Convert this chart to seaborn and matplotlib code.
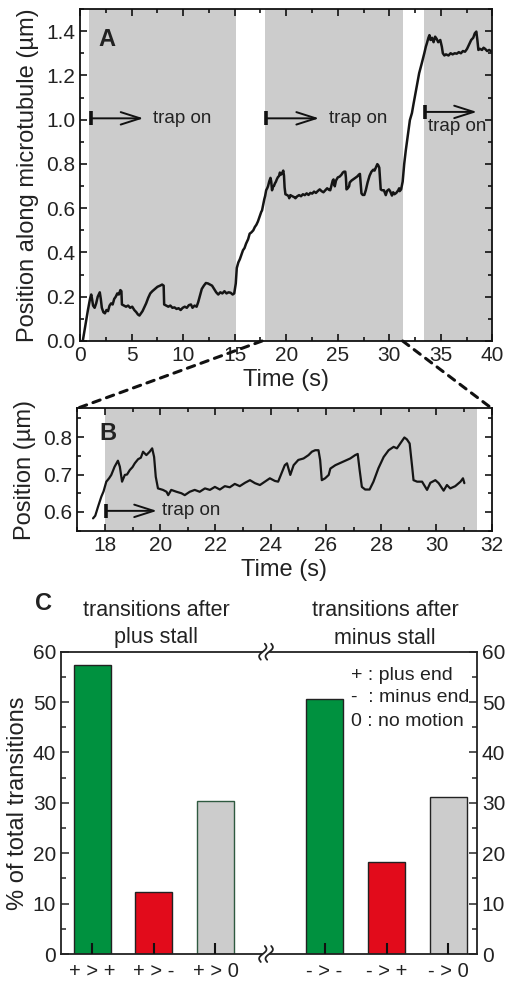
import numpy as np
import pandas as pd
import matplotlib
matplotlib.use("Agg")
import matplotlib.pyplot as plt
import seaborn as sns
from matplotlib.patches import ArrowStyle, ConnectionPatch
from matplotlib.lines import Line2D
from matplotlib.markers import TICKUP
from matplotlib.ticker import MultipleLocator

# ---------------- data ----------------
# trace before the zoomed window (panel A only)
pre_t = [0.25, 0.5, 0.75, 0.95, 1.07, 1.15, 1.25, 1.4, 1.55, 1.7, 1.9, 2.0, 2.1, 2.25, 2.4, 2.55, 2.7,
         2.85, 3.0, 3.15, 3.3, 3.45, 3.6, 3.75, 3.9, 4.0, 4.05, 4.25, 4.45, 4.65, 4.85, 5.05, 5.25, 5.45,
         5.6, 5.75, 5.9, 6.05, 6.2, 6.4, 6.6, 6.8, 7.0, 7.25, 7.5, 7.75, 7.95, 8.1, 8.15, 8.35, 8.55,
         8.75, 8.95, 9.15, 9.35, 9.55, 9.75, 9.95, 10.15, 10.35, 10.55, 10.75, 10.9, 11.1, 11.3, 11.45,
         11.6, 11.8, 12.0, 12.2, 12.4, 12.6, 12.8, 13.0, 13.2, 13.4, 13.6, 13.8, 14.0, 14.2, 14.4, 14.6,
         14.8, 14.95, 15.1, 15.2, 15.35, 15.5, 15.65, 15.8, 15.95, 16.1, 16.3, 16.45, 16.6, 16.8, 16.95,
         17.1, 17.25, 17.4]
pre_y = [0.0, 0.07, 0.14, 0.19, 0.21, 0.19, 0.16, 0.15, 0.17, 0.20, 0.22, 0.19, 0.15, 0.13, 0.125, 0.14,
         0.135, 0.16, 0.17, 0.165, 0.19, 0.20, 0.215, 0.21, 0.23, 0.225, 0.165, 0.16, 0.155, 0.16, 0.15,
         0.155, 0.14, 0.13, 0.12, 0.115, 0.125, 0.135, 0.15, 0.17, 0.195, 0.215, 0.225, 0.235, 0.245,
         0.25, 0.255, 0.25, 0.165, 0.16, 0.155, 0.16, 0.15, 0.152, 0.145, 0.148, 0.14, 0.15, 0.155, 0.15,
         0.162, 0.165, 0.15, 0.16, 0.155, 0.175, 0.2, 0.235, 0.25, 0.262, 0.26, 0.255, 0.25, 0.235, 0.22,
         0.21, 0.22, 0.215, 0.225, 0.215, 0.22, 0.218, 0.21, 0.215, 0.26, 0.33, 0.355, 0.37, 0.39, 0.41,
         0.42, 0.44, 0.46, 0.485, 0.49, 0.5, 0.515, 0.525, 0.54, 0.56]

# zoomed window (panel B, also part of A)
win_t = [17.57, 17.65, 17.75, 17.87, 17.95, 18.05, 18.15, 18.23, 18.35, 18.47, 18.54, 18.62, 18.72, 18.8,
         18.9, 19.0, 19.08, 19.2, 19.3, 19.38, 19.5, 19.62, 19.71, 19.78, 19.84, 19.92, 20.1, 20.23,
         20.29, 20.4, 20.59, 20.77, 20.89, 21.07, 21.25, 21.43, 21.62, 21.8, 21.98, 22.16, 22.34, 22.52,
         22.7, 22.88, 23.07, 23.25, 23.43, 23.61, 23.79, 23.97, 24.15, 24.27, 24.39, 24.51, 24.59, 24.71,
         24.83, 25.0, 25.19, 25.37, 25.49, 25.61, 25.73, 25.79, 25.85, 25.97, 26.1, 26.16, 26.34, 26.52,
         26.7, 26.88, 27.06, 27.15, 27.22, 27.3, 27.42, 27.58, 27.72, 27.9, 28.09, 28.27, 28.45, 28.57,
         28.69, 28.84, 28.93, 29.03, 29.12, 29.17, 29.3, 29.48, 29.66, 29.78, 29.96, 30.08, 30.26, 30.38,
         30.5, 30.68, 30.87, 30.96, 31.01]
win_y = [0.583, 0.59, 0.614, 0.641, 0.655, 0.681, 0.69, 0.699, 0.721, 0.737, 0.721, 0.681, 0.699, 0.70,
         0.712, 0.72, 0.73, 0.741, 0.745, 0.761, 0.752, 0.761, 0.77, 0.747, 0.694, 0.663, 0.659, 0.654,
         0.645, 0.659, 0.654, 0.65, 0.645, 0.654, 0.659, 0.654, 0.663, 0.659, 0.667, 0.66, 0.669, 0.666,
         0.675, 0.669, 0.678, 0.685, 0.677, 0.672, 0.681, 0.69, 0.683, 0.681, 0.703, 0.725, 0.73, 0.699,
         0.725, 0.739, 0.743, 0.752, 0.761, 0.765, 0.765, 0.739, 0.685, 0.69, 0.699, 0.716, 0.725, 0.731,
         0.737, 0.743, 0.752, 0.755, 0.712, 0.667, 0.66, 0.66, 0.681, 0.717, 0.747, 0.765, 0.774, 0.77,
         0.783, 0.799, 0.794, 0.783, 0.721, 0.685, 0.681, 0.681, 0.659, 0.678, 0.685, 0.677, 0.657, 0.672,
         0.663, 0.669, 0.681, 0.69, 0.677]

# trace after the zoomed window (panel A only)
post_t = [31.15, 31.3, 31.45, 31.6, 31.8, 32.0, 32.2, 32.35, 32.55, 32.7, 32.9, 33.15, 33.4, 33.55, 33.65,
          33.8, 33.9, 34.0, 34.15, 34.3, 34.45, 34.6, 34.75, 34.95, 35.1, 35.2, 35.35, 35.5, 35.75, 35.95,
          36.15, 36.35, 36.55, 36.75, 36.95, 37.15, 37.35, 37.55, 37.75, 37.95, 38.15, 38.3, 38.45, 38.55,
          38.65, 38.8, 39.0, 39.15, 39.3, 39.5, 39.7, 39.95]
post_y = [0.685, 0.72, 0.80, 0.86, 0.93, 0.998, 1.03, 1.07, 1.12, 1.16, 1.21, 1.254, 1.30, 1.33, 1.345,
          1.37, 1.382, 1.36, 1.37, 1.35, 1.375, 1.365, 1.35, 1.36, 1.33, 1.30, 1.29, 1.295, 1.29, 1.30,
          1.295, 1.30, 1.298, 1.305, 1.30, 1.31, 1.307, 1.32, 1.34, 1.36, 1.37, 1.39, 1.398, 1.36, 1.315,
          1.32, 1.315, 1.325, 1.32, 1.31, 1.315, 1.307]

trap_on_A = [(0.88, 15.1), (17.94, 31.37), (33.38, 40.0)]
trap_on_B = [(18.0, 31.45)]
trap_arrows_A = [(1.02, 6.13, 1.006), (18.07, 23.18, 1.006), (33.48, 38.5, 1.035)]
trap_arrow_B = (18.04, 19.88, 0.603)

plus_labels = ["+ > +", "+ > -", "+ > 0"]
plus_values = [57.3, 12.3, 30.4]
minus_labels = ["- > -", "- > +", "- > 0"]
minus_values = [50.6, 18.2, 31.2]
bar_colors = ["#00913f", "#e20b1b", "#cccccc"]

# ---------------- style ----------------
sns.set_style("ticks")
plt.rcParams['font.family'] = ['Liberation Sans', 'DejaVu Sans']
plt.rcParams['axes.linewidth'] = 1.3
plt.rcParams['xtick.major.width'] = 1.1
plt.rcParams['ytick.major.width'] = 1.1
plt.rcParams['xtick.minor.width'] = 1.1
plt.rcParams['ytick.minor.width'] = 1.1
TXT = '#222222'
GRAY = '#cccccc'

W, H = 508, 984
fig = plt.figure(figsize=(W / 100, H / 100), dpi=100)


def px_axes(l, t, r, b):
    return fig.add_axes([l / W, 1 - b / H, (r - l) / W, (b - t) / H])


def fx(x):
    return x / W


def fy(y):
    return 1 - y / H


axA = px_axes(80.2, 9, 492.3, 341)
axB = px_axes(77.3, 408.3, 491.7, 530.7)
axC1 = px_axes(61, 651.7, 262, 954)
axC2 = px_axes(270, 651.7, 477, 954)

arrow_style = ArrowStyle("->", head_length=1.0, head_width=0.32)


def trap_arrow(ax, x0, x1, yy):
    ax.annotate("", xy=(x1, yy), xytext=(x0, yy),
                arrowprops=dict(arrowstyle=arrow_style, color='#111111', lw=1.4, shrinkA=0, shrinkB=0,
                                mutation_scale=14))
    ax.plot([x0], [yy], marker='|', ms=10, mew=2.6, color='#111111')


def trace_ax(ax):
    ax.tick_params(which='both', direction='in', top=True, right=True, labelsize=15, colors='black',
                   labelcolor=TXT)
    ax.tick_params(which='major', length=5)
    ax.tick_params(which='minor', length=3)
    for s in ax.spines.values():
        s.set_color('#111111')


# ---------------- panel A ----------------
dfA = pd.DataFrame({"t": pre_t + win_t + post_t, "y": pre_y + win_y + post_y})
for a, b in trap_on_A:
    axA.axvspan(a, b, color=GRAY, lw=0, zorder=0)
sns.lineplot(data=dfA, x="t", y="y", sort=False, estimator=None, color='#151515', lw=1.8, ax=axA)
axA.set_xlim(0, 40)
axA.set_ylim(0, 1.5)
axA.xaxis.set_major_locator(MultipleLocator(5))
axA.xaxis.set_minor_locator(MultipleLocator(2.5))
axA.yaxis.set_major_locator(MultipleLocator(0.2))
axA.yaxis.set_minor_locator(MultipleLocator(0.1))
trace_ax(axA)
axA.set_xlabel("Time (s)", fontsize=17, color=TXT, labelpad=3)
axA.set_ylabel("Position along microtubule (\u00b5m)", fontsize=17, color=TXT, labelpad=5)
axA.text(2.6, 1.36, "A", fontsize=17, fontweight='bold', ha='center', va='center', color=TXT)
for i, (x0, x1, yy) in enumerate(trap_arrows_A):
    trap_arrow(axA, x0, x1, yy)
    if i < 2:
        axA.text(x1 + 0.95, yy, "trap on", fontsize=13.5, ha='left', va='center', color=TXT)
    else:
        axA.text(x0 + 0.25, yy - 0.068, "trap on", fontsize=13.5, ha='left', va='center', color=TXT)

# ---------------- panel B ----------------
dfB = pd.DataFrame({"t": win_t, "y": win_y})
for a, b in trap_on_B:
    axB.axvspan(a, b, color=GRAY, lw=0, zorder=0)
sns.lineplot(data=dfB, x="t", y="y", sort=False, estimator=None, color='#151515', lw=1.6, ax=axB)
axB.set_xlim(17, 32)
axB.set_ylim(0.55, 0.877)
axB.xaxis.set_major_locator(MultipleLocator(2))
axB.xaxis.set_minor_locator(MultipleLocator(1))
axB.yaxis.set_major_locator(MultipleLocator(0.1))
axB.yaxis.set_minor_locator(MultipleLocator(0.05))
trace_ax(axB)
axB.set_xlabel("Time (s)", fontsize=17, color=TXT, labelpad=3)
axB.set_ylabel("Position (\u00b5m)", fontsize=17, color=TXT, labelpad=5)
axB.text(18.1, 0.81, "B", fontsize=17, fontweight='bold', ha='center', va='center', color=TXT)
x0, x1, yy = trap_arrow_B
trap_arrow(axB, x0, x1, yy)
axB.text(x1 + 0.2, yy, "trap on", fontsize=13.5, ha='left', va='center', color=TXT)

# dashed zoom connectors
for xa, xb in [(17.65, 0), (31.3, 1)]:
    con = ConnectionPatch(xyA=(xa, 0), coordsA=axA.transData, xyB=(xb, 1), coordsB=axB.transAxes,
                          color='#111111', lw=2.2, ls=(0, (2.5, 2.2)), zorder=10)
    fig.add_artist(con)

# ---------------- panel C ----------------
def bar_ax(ax, labels, values):
    sns.barplot(x=labels, y=values, hue=labels, palette=dict(zip(labels, bar_colors)), legend=False,
                width=0.6, saturation=1, edgecolor='#222222', linewidth=1.0, ax=ax)
    for p in ax.patches:
        p.set_zorder(1)
    ax.set_axisbelow(False)
    ax.set_ylim(0, 60)
    ax.yaxis.set_major_locator(MultipleLocator(10))
    ax.yaxis.set_minor_locator(MultipleLocator(5))
    ax.tick_params(which='both', direction='in', labelsize=15, labelcolor=TXT)
    ax.tick_params(which='major', length=6)
    ax.tick_params(which='minor', length=3.5)
    ax.tick_params(axis='x', which='major', labelsize=14.5, pad=6, length=7, width=1.3,
                   direction='in', bottom=True, color='#111111')
    ax.tick_params(axis='x', which='minor', bottom=False)
    # inward category tick marks, drawn on top of the bars
    ax.plot(range(len(labels)), [0] * len(labels), ls='', marker=TICKUP, ms=8, mew=1.5,
            color='#111111', clip_on=False, zorder=6)
    for s in ax.spines.values():
        s.set_color('#222222')
        s.set_linewidth(1.3)
        s.set_zorder(5)
    ax.spines['top'].set_visible(True)


bar_ax(axC1, plus_labels, plus_values)
axC1.set_xlim(-0.51, 2.756)
axC1.spines['right'].set_visible(False)
axC1.set_ylabel("% of total transitions", fontsize=17, color=TXT, labelpad=3)
axC1.patches[2].set_edgecolor('#2f5a40')

bar_ax(axC2, minus_labels, minus_values)
axC2.set_xlim(-0.88, 2.46)
axC2.spines['left'].set_visible(False)
axC2.spines['right'].set_visible(True)
axC2.yaxis.tick_right()
axC2.yaxis.set_label_position('right')
axC2.tick_params(axis='y', which='both', left=False, right=True, direction='in')
axC2.tick_params(axis='x', which='minor', bottom=False)

# titles and key
fig.text(fx(156), fy(610), "transitions after", fontsize=15.5, ha='center', va='center', color=TXT)
fig.text(fx(156), fy(638), "plus stall", fontsize=15.5, ha='center', va='center', color=TXT)
fig.text(fx(385), fy(610), "transitions after", fontsize=15.5, ha='center', va='center', color=TXT)
fig.text(fx(385), fy(638), "minus stall", fontsize=15.5, ha='center', va='center', color=TXT)
fig.text(fx(44), fy(604), "C", fontsize=17, fontweight='bold', ha='center', va='center', color=TXT)
fig.text(fx(351), fy(675), "+ : plus end", fontsize=14, ha='left', va='center', color=TXT)
fig.text(fx(351), fy(698), "-  : minus end", fontsize=14, ha='left', va='center', color=TXT)
fig.text(fx(351), fy(722), "0 : no motion", fontsize=14, ha='left', va='center', color=TXT)

# axis-break marks
s = np.linspace(-1, 1, 40)
for cy in (651.7, 954):
    for dx in (-3.2, 3.2):
        xs = 266 + dx + 2.6 * np.sin(np.pi * s) + 2.0 * s
        ys = cy - 8 * s
        fig.add_artist(Line2D(fx(xs), fy(ys), color='#222222', lw=1.3, transform=fig.transFigure))

fig.savefig("out.png", dpi=100)
